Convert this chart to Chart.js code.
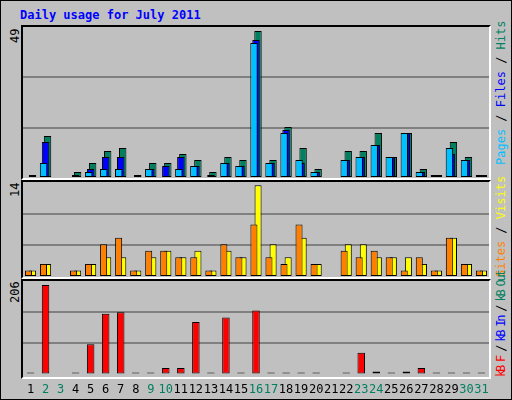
<!DOCTYPE html>
<html><head><meta charset="utf-8">
<script src="https://cdn.jsdelivr.net/npm/chart.js@4"></script>
<style>
body{margin:0;background:#fff}
#f{position:absolute;left:0;top:0;width:510px;height:398px;background:#c0c0c0;border:1px solid #000;font-family:"DejaVu Sans Mono",monospace}
.p{position:absolute;left:20px;width:470px;box-sizing:border-box;border-top:2px solid #000;border-left:2px solid #000;border-right:2px solid #fff;border-bottom:2px solid #fff}
canvas{position:absolute}
.t{position:absolute;font-size:12px;white-space:nowrap;transform-origin:0 0}
</style></head><body>
<div id="f">
<div class="t" style="left:19px;top:7px;color:#0000ff;font-weight:bold">Daily usage for July 2011</div>
<div class="p" style="top:24px;height:155px"></div>
<div class="p" style="top:179px;height:99px"></div>
<div class="p" style="top:278px;height:100px"></div>
<canvas id="c1" style="left:22px;top:26px"></canvas>
<canvas id="c2" style="left:22px;top:181px"></canvas>
<canvas id="c3" style="left:22px;top:280px"></canvas>
<div class="t" style="left:7px;top:42px;transform:rotate(-90deg)">49</div>
<div class="t" style="left:7px;top:196px;transform:rotate(-90deg)">14</div>
<div class="t" style="left:7px;top:302px;transform:rotate(-90deg)">206</div>
<div class="t" style="left:493px;top:164px;transform:rotate(-90deg)"><span style="color:#00c0ff">Pages</span> / <span style="color:#0000ff">Files</span> / <span style="color:#008060">Hits</span></div>
<div class="t" style="left:493px;top:276px;transform:rotate(-90deg)"><span style="color:#ff8000">Sites</span> / <span style="color:#ffff00">Visits</span></div>
<div class="t" style="left:493px;top:376px;transform:rotate(-90deg);letter-spacing:-2.2px"><span style="color:#ff0000">kB F</span> / <span style="color:#0000ff">kB In</span> / <span style="color:#008060">kB Out</span></div>
</div>
<script>
const days=["1","2","3","4","5","6","7","8","9","10","11","12","13","14","15","16","17","18","19","20","21","22","23","24","25","26","27","28","29","30","31"];
const weekend=["2","3","9","10","16","17","23","24","30","31"];
const hits=[1,14,0,2,5,9,10,1,5,5,8,6,2,7,6,49,6,17,10,3,0,9,9,15,7,15,3,1,12,7,1];
const files=[0,12,0,1,3,7,7,0,3,4,7,4,1,5,4,46,5,16,5,2,0,6,7,11,7,15,2,1,8,6,1];
const pages=[0,5,0,0,2,3,3,0,3,0,3,4,0,5,4,45,5,15,6,2,0,6,7,11,7,15,2,1,10,6,1];
const visits=[1,2,0,1,2,3,3,1,3,4,3,4,1,4,3,14,5,3,6,2,0,5,5,3,3,3,2,1,6,2,1];
const sites=[1,2,0,1,2,5,6,1,4,4,3,3,1,5,3,8,3,2,8,2,0,4,3,4,3,1,3,1,6,2,1];
const kbytes=[0,206,null,0,70,140,143,0,0,15,15,121,0,131,0,147,0,0,5,0,null,0,50,7,5,7,15,0,5,5,0];
Chart.defaults.animation=false;
const rev=a=>a.slice().reverse();
function yScale(max){return {display:true,min:0,max:max,ticks:{display:false,stepSize:max/3},border:{display:false},
 grid:{drawTicks:false,color:c=>(c.index===1||c.index===2)?'#808080':'rgba(0,0,0,0)',lineWidth:2}};}
function mk(id,w,h,ds,max,cat,bar,xaxis){
 const cv=document.getElementById(id);cv.width=w;cv.height=h;cv.style.width=w+'px';cv.style.height=h+'px';
 return new Chart(cv,{type:'bar',data:{labels:rev(days),datasets:ds.map(d=>Object.assign({borderColor:'#000',borderWidth:1,borderSkipped:false,categoryPercentage:cat,barPercentage:bar},d,{data:rev(d.data)}))},
 options:{responsive:false,devicePixelRatio:1,layout:{padding:0},plugins:{legend:{display:false},tooltip:{enabled:false}},
 scales:{x:Object.assign({reverse:true},xaxis||{display:false}),y:yScale(max)}}});
}
mk('c1',466,151,[{data:pages,backgroundColor:'#00c0ff',order:1},{data:files,backgroundColor:'#0000ff',order:2},{data:hits,backgroundColor:'#008060',order:3}],50.3,0.4,3.7);
mk('c2',466,95,[{data:sites,backgroundColor:'#ff8000',order:1},{data:visits,backgroundColor:'#ffff00',order:2}],14.5,0.55,1.7);
mk('c3',466,124,[{data:kbytes,backgroundColor:c=>c.raw===0?'#000':'#ff0000',minBarLength:2}],215,1,0.5,
 {display:true,grid:{display:false,drawTicks:false},border:{display:false},ticks:{padding:8,maxRotation:0,autoSkip:false,font:{family:'DejaVu Sans Mono',size:12},color:c=>weekend.includes(c.chart.data.labels[c.index])?'#008060':'#000'}});
</script>
</body></html>
